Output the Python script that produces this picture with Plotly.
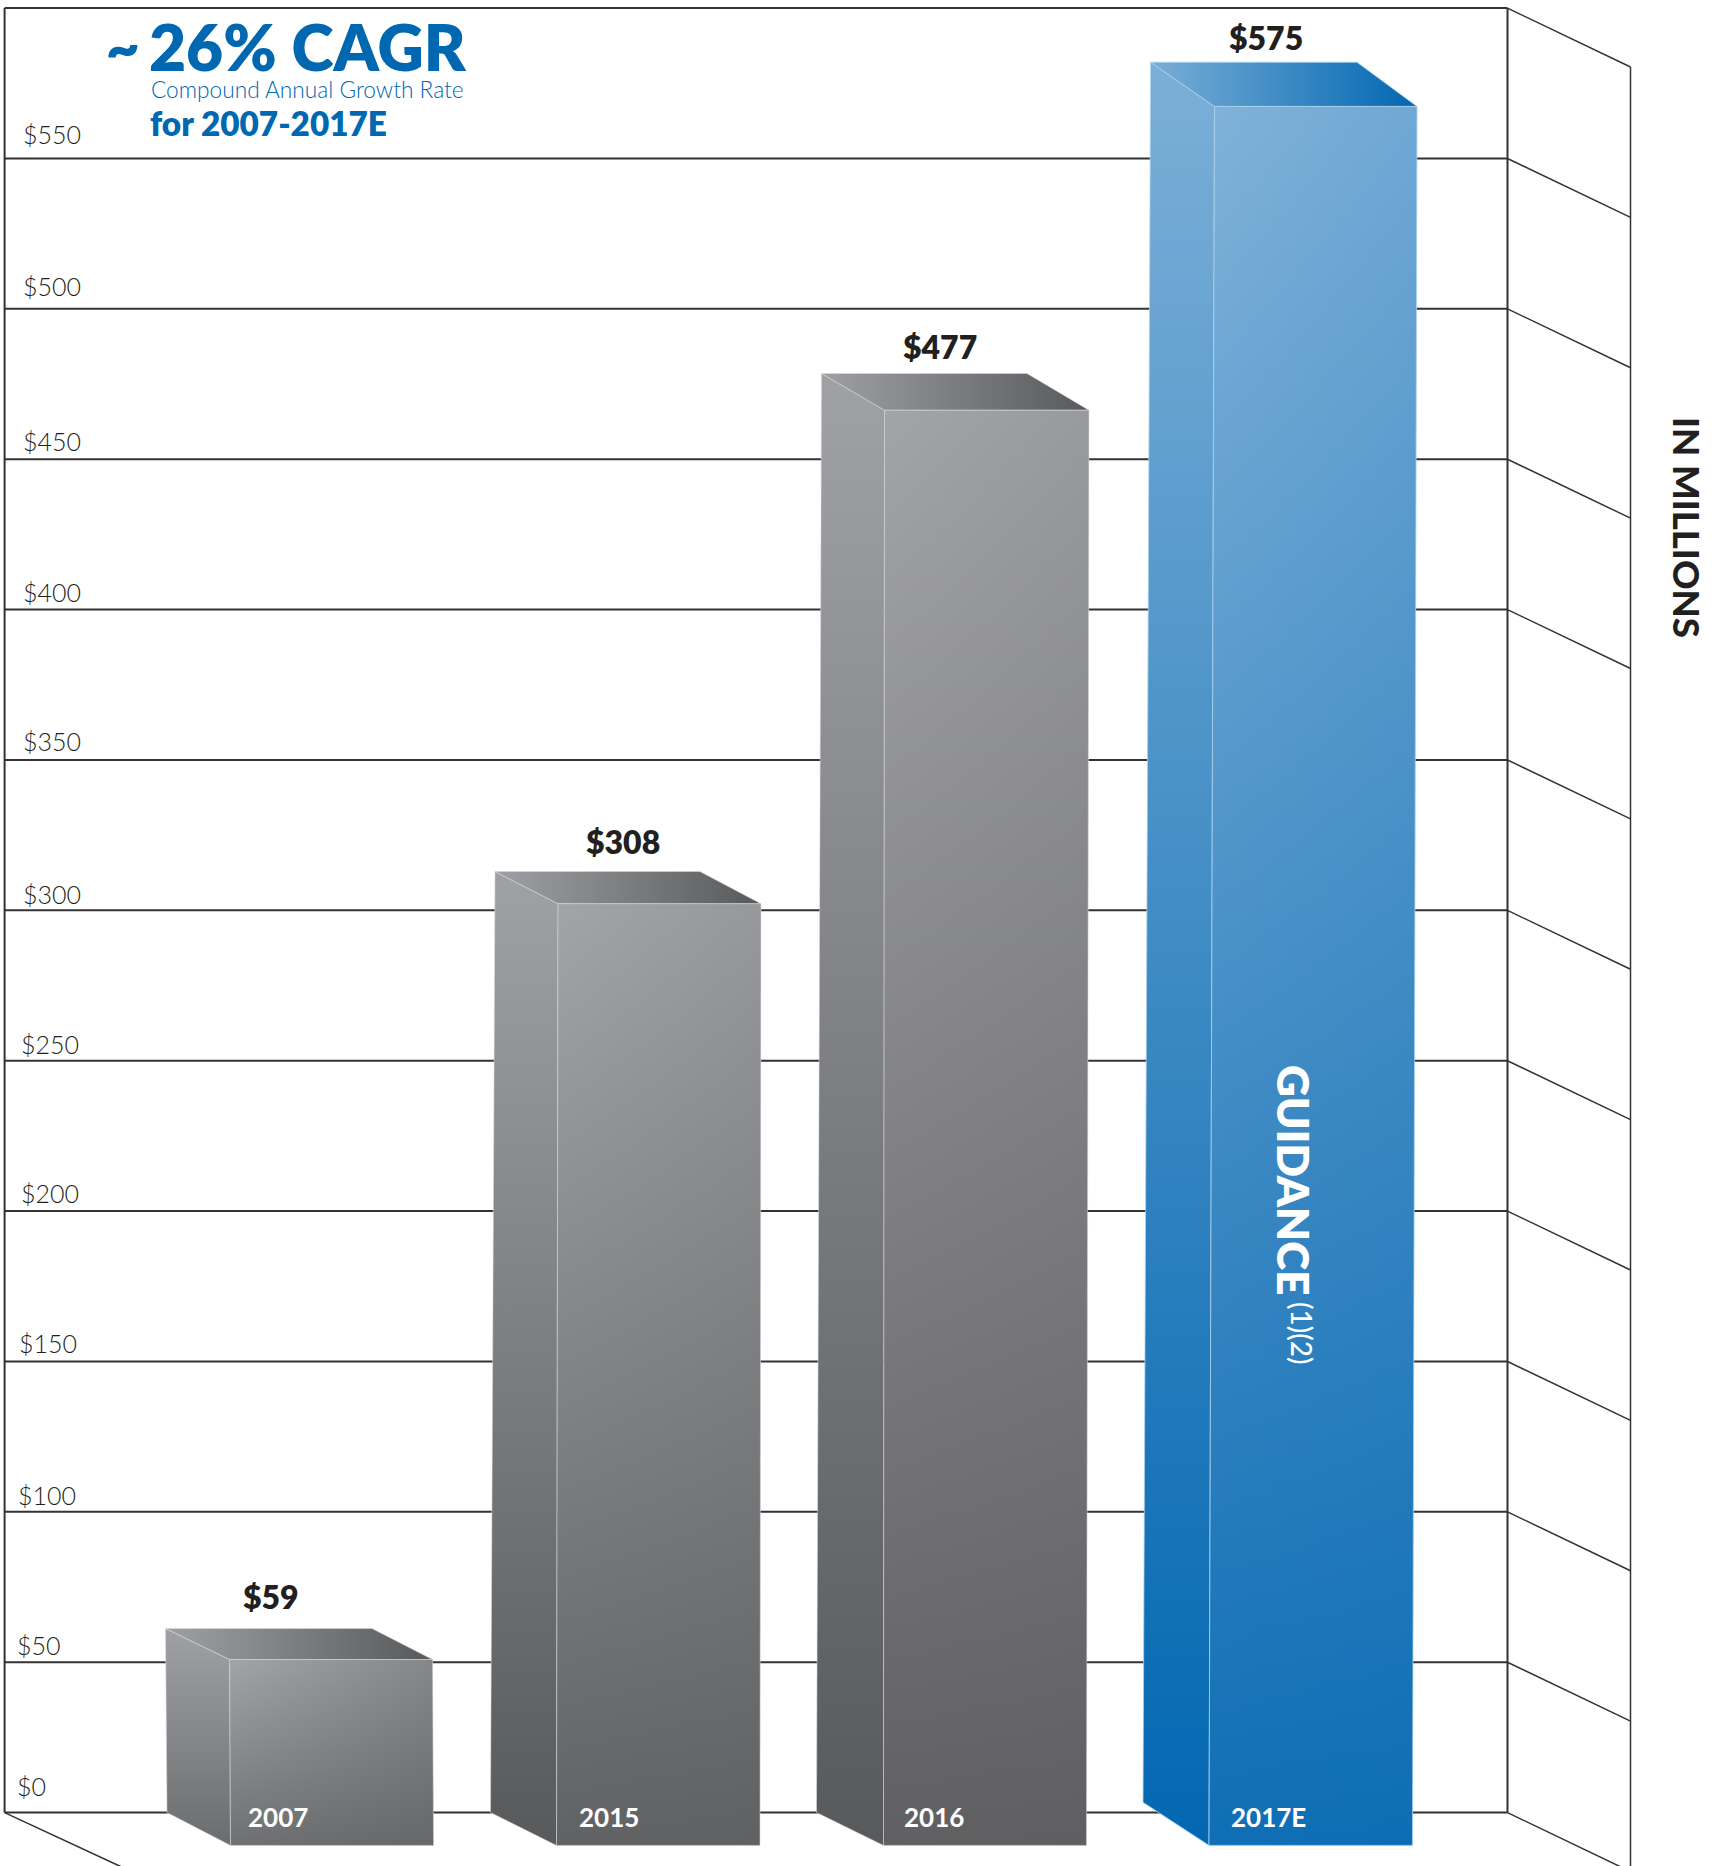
import plotly.graph_objects as go

# ---- data
categories = ["2007", "2015", "2016", "2017E"]
values = [59, 308, 477, 575]
value_labels = ["$59", "$308", "$477", "$575"]
tick_values = [0, 50, 100, 150, 200, 250, 300, 350, 400, 450, 500, 550]
tick_labels = ["$0", "$50", "$100", "$150", "$200", "$250", "$300", "$350", "$400", "$450", "$500", "$550"]

# ---- geometry of the drawing (page pixels horizontally, $ vertically)
W, H = 1715, 1866
PX_PER_USD = 3.0075
ZERO_PX = 1812.6
WALL_L, WALL_R, SIDE_R = 4.6, 1507.5, 1630.5
WALL_TOP = 600
SIDE_DROP = 19.6

top_overshoot = [2.2, 4.9, 1.5, 7.0]      # back top edge above the value
front_drop = [10.3, 10.7, 12.2, 14.7]     # front top edge below the back top edge
back_base = [0, 0, 0, 3.4]                # back bottom corner
FRONT_BASE = -10.9
# x: back-left top, back-left bottom, front-left top, front-left bottom, front-right top, front-right bottom, back-right top
bar_x = [
    (165.5, 167, 229.6, 230.5, 432.6, 433.5, 372),
    (495, 490.5, 558, 556.5, 761, 760, 700),
    (821.5, 816.5, 884.5, 883.5, 1089, 1086.5, 1027),
    (1150.6, 1143, 1214.5, 1209, 1417, 1412.5, 1357),
]
GREY = ((163, 164, 167), (88, 89, 91))
BLUE = ((128, 178, 217), (2, 103, 177))
palette = [GREY, GREY, GREY, BLUE]
h_weight = [0.30, 0.12, 0.10, 0.10]       # share of the diagonal shading that runs sideways
side_end = [0.75, 1.0, 1.0, 1.0]          # how far the side face shades toward the dark tone
edge = ["rgba(215,216,218,.55)"] * 3 + ["rgba(170,210,238,.8)"]

INK = "#231F20"
BLUE_TXT = "#0067B1"
FONT = "Lato"
GRID = "#333333"


def rgb(c, a=None):
    c = tuple(int(round(v)) for v in c)
    return f"rgb{c}" if a is None else f"rgba({c[0]},{c[1]},{c[2]},{a})"


def mix(a, b, t):
    return tuple(a[i] + (b[i] - a[i]) * t for i in range(3))


def face(xs, ys, kind, c0, c1, line=None):
    grad = dict(type=kind, colorscale=[[0, c0], [1, c1]])
    return go.Scatter(x=xs, y=ys, mode="lines", fill="toself", fillgradient=grad,
                      line=dict(color=line or "rgba(0,0,0,0)", width=1),
                      hoverinfo="skip", showlegend=False)


def stroke(xs, ys, width):
    return go.Scatter(x=xs, y=ys, mode="lines", line=dict(color=GRID, width=width),
                      hoverinfo="skip", showlegend=False)


fig = go.Figure()

# back wall and side wall
all_levels = tick_values + [WALL_TOP]
for lv in all_levels:
    fig.add_trace(stroke([WALL_L, WALL_R], [lv, lv], 2))
    fig.add_trace(stroke([WALL_R, SIDE_R], [lv, lv - SIDE_DROP], 1.5))
fig.add_trace(stroke([WALL_L, WALL_L], [0, WALL_TOP], 2))
fig.add_trace(stroke([WALL_R, WALL_R], [0, WALL_TOP], 2))
fig.add_trace(stroke([SIDE_R, SIDE_R], [WALL_TOP - SIDE_DROP, -SIDE_DROP], 1.5))
fig.add_trace(stroke([WALL_L, WALL_L + 116], [0, -SIDE_DROP * 0.915], 1.5))

# bars
for i, v in enumerate(values):
    light, dark = palette[i]
    blt, blb, flt, flb, frt, frb, brt = bar_x[i]
    back_top = v + top_overshoot[i]
    front_top = back_top - front_drop[i]
    w = h_weight[i]
    # side (vertical ramps run from the low y value to the high y value)
    sx = [blt, flt, flb, blb, blt]
    sy = [back_top, front_top, FRONT_BASE, back_base[i], back_top]
    fig.add_trace(face(sx, sy, "vertical", rgb(mix(light, dark, side_end[i])), rgb(mix(light, dark, 0.04)), edge[i]))
    # top
    tx = [blt, brt, frt, flt, blt]
    ty = [back_top, back_top, front_top, front_top, back_top]
    fig.add_trace(face(tx, ty, "horizontal", rgb(mix(light, dark, 0.05)), rgb(dark), edge[i]))
    # front: a vertical ramp, then a sideways ramp over it, which reads as a diagonal shade
    fx = [flt, frt, frb, flb, flt]
    fy = [front_top, front_top, FRONT_BASE, FRONT_BASE, front_top]
    fig.add_trace(face(fx, fy, "vertical", rgb(mix(light, dark, 1 - w)), rgb(light)))
    fig.add_trace(face(fx, fy, "horizontal", rgb(dark, 0), rgb(dark, round(min(1, w * 1.3), 3)), edge[i]))

ann = []


def text(x, y, s, size, color=INK, weight=400, xanchor="left", yanchor="middle", angle=0, yshift=0):
    ann.append(dict(x=x, y=y, xref="x", yref="y", text=s, showarrow=False, xanchor=xanchor, yanchor=yanchor,
                    textangle=angle, yshift=yshift, align="left",
                    font=dict(family=FONT, size=size, color=color, weight=weight)))


def y_of(px):
    return (ZERO_PX - px) / PX_PER_USD


# axis labels sit above their grid lines with a hand-set drift
label_left = [14.5, 14.5, 15.5, 16.5, 18.5, 18.5, 20.5, 20.5, 20.5, 20.5, 20.5, 20.5]
label_lift = [27, 17, 17, 18, 18, 17, 16, 19, 18, 18, 23, 24]
for t, s, lx, ly in zip(tick_values, tick_labels, label_left, label_lift):
    text(lx, t, s, 25, color=INK, weight=300, yshift=ly)

# value labels above each bar
val_cx = [271, 622.5, 939.5, 1266]
val_lift = [32, 30, 27, 25]
for i, s in enumerate(value_labels):
    text(val_cx[i], values[i] + top_overshoot[i], s, 32, weight=800, xanchor="center", yshift=val_lift[i])

# category labels inside the base of each bar
cat_cx = [277.5, 608.5, 933.5, 1268]
for c, cx in zip(categories, cat_cx):
    text(cx, 0, c, 26, color="white", weight=700, xanchor="center", yshift=-4)

text(104, y_of(46), "~", 58, color=BLUE_TXT, weight=800)
text(147, y_of(46), "26% CAGR", 64, color=BLUE_TXT, weight=800)
text(148.5, y_of(89), "Compound Annual Growth Rate", 22.7, color=BLUE_TXT, weight=300)
text(148, y_of(123), "for 2007-2017E", 33.3, color=BLUE_TXT, weight=800)
text(1687, y_of(527), "IN MILLIONS", 36.5, weight=900, xanchor="center", angle=90)
text(1294, y_of(1180), "GUIDANCE", 44, color="white", weight=800, xanchor="center", angle=90)
text(1302, y_of(1333), "(1)(2)", 28, color="white", weight=500, xanchor="center", angle=90)

fig.update_layout(
    width=W, height=H, margin=dict(l=0, r=0, t=0, b=0), paper_bgcolor="white", plot_bgcolor="white",
    showlegend=False, annotations=ann,
    xaxis=dict(domain=[0, 1], range=[0, W], visible=False),
    yaxis=dict(domain=[0, 1], range=[y_of(H), y_of(0)], visible=False),
)

fig.write_html("out.html", post_script="document.body.style.margin='0';", config=dict(displayModeBar=False))
